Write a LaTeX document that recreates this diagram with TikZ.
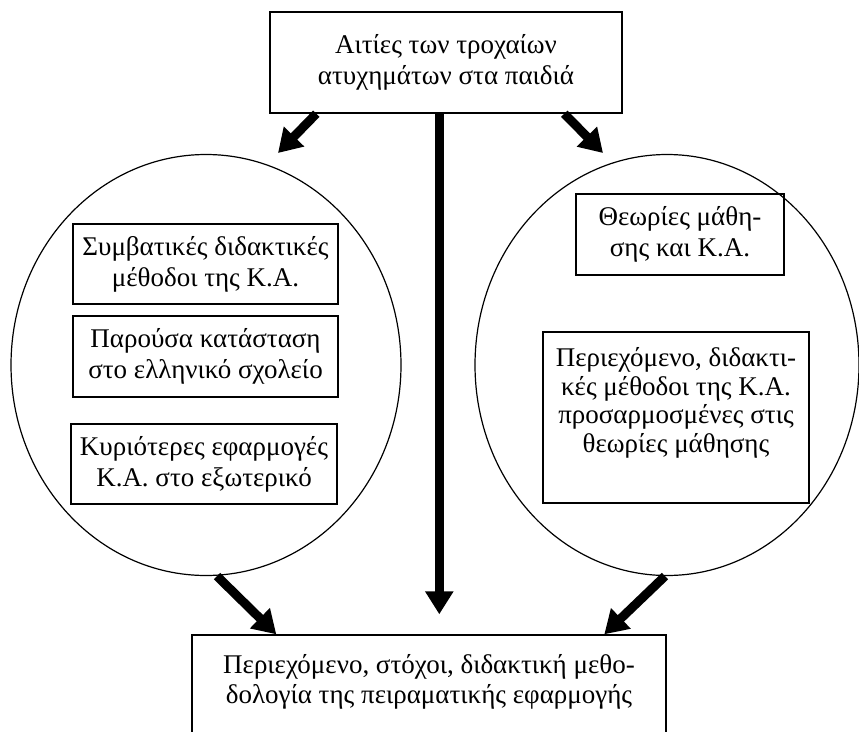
\documentclass[tikz,border=0pt]{standalone}
\usepackage{fontspec}
\setmainfont{Liberation Serif}
\usetikzlibrary{arrows.meta,shapes.geometric}

\begin{document}
\begin{tikzpicture}[x=1pt,y=-1pt,
  txt/.style={font=\fontsize{27}{31}\selectfont, align=center, inner sep=0pt},
  box/.style={txt, draw, line width=1.4pt, rectangle},
  oval/.style={draw, line width=1.2pt, ellipse, inner sep=0pt},
  bigarrow/.style={line width=9pt, -{Triangle[length=23pt,width=27pt]}}]
\useasboundingbox (0,0) rectangle (859,731);
\clip (0,0) rectangle (859,731);

% two large groupings
\node[oval, minimum width=390pt, minimum height=421pt] (lc) at (206,365) {};
\node[oval, minimum width=384pt, minimum height=421pt] (rc) at (667,365) {};

% top topic
\node[box, minimum width=352pt, minimum height=101pt] (top) at (446,62.5)
  {Αιτίες των τροχαίων\\ατυχημάτων στα παιδιά};

% left group contents
\node[box, minimum width=265pt, minimum height=80pt] (b1) at (205.5,264)
  {Συμβατικές διδακτικές\\μέθοδοι της Κ.Α.};
\node[box, minimum width=265pt, minimum height=81pt] (b2) at (205.5,356.5)
  {Παρούσα κατάσταση\\στο ελληνικό σχολείο};
\node[box, minimum width=266pt, minimum height=80pt] (b3) at (204,464)
  {Κυριότερες εφαρμογές\\Κ.Α. στο εξωτερικό};

% right group contents
\node[box, minimum width=208pt, minimum height=81pt] (b4) at (680,234.5)
  {Θεωρίες μάθη-\\σης και Κ.Α.};
\node[box, minimum width=266pt, minimum height=171pt] (b5) at (676,417.5) {};
\node[txt, font=\fontsize{27}{28.5}\selectfont, anchor=north] (b5t) at ([yshift=-16pt]b5.north)
  {Περιεχόμενο, διδακτι-\\κές μέθοδοι της Κ.Α.\\προσαρμοσμένες στις\\θεωρίες μάθησης};

% resulting box (runs past the lower edge)
\node[box, minimum width=474pt, minimum height=200pt] (bot) at (429,735) {};
\node[txt, font=\fontsize{27}{30}\selectfont, anchor=north] (bott) at ([yshift=-20pt]bot.north)
  {Περιεχόμενο, στόχοι, διδακτική μεθο-\\δολογία της πειραματικής εφαρμογής};

% arrow end points
\coordinate (tipL) at (278,153);
\coordinate (tipR) at (603,153);

\draw[bigarrow] ([xshift=47pt]top.south west) -- (tipL);
\draw[bigarrow] ([xshift=295pt]top.south west) -- (tipR);
\draw[bigarrow] ([xshift=170pt]top.south west) -- ([xshift=248pt,yshift=20pt]bot.north west);
\draw[bigarrow] ([xshift=11pt]lc.south) -- ([xshift=85pt]bot.north west);
\draw[bigarrow] ([xshift=-2pt]rc.south) -- ([xshift=413pt]bot.north west);
\end{tikzpicture}
\end{document}
